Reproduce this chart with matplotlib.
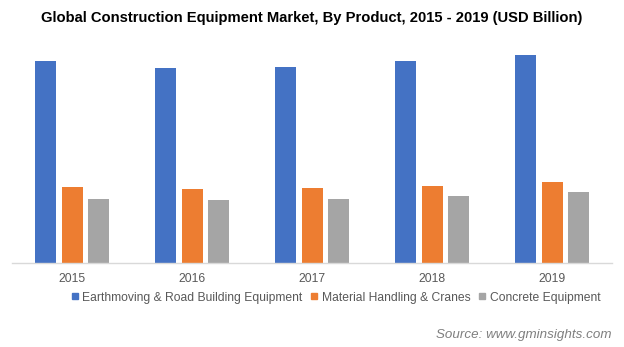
import matplotlib
matplotlib.use("Agg")
import matplotlib.pyplot as plt
from matplotlib.lines import Line2D
import numpy as np

# data (USD Billion)
years = ["2015", "2016", "2017", "2018", "2019"]
earthmoving = [101.2, 97.5, 98.2, 101.2, 104.2]
material_handling = [38.2, 37.0, 37.7, 38.7, 40.7]
concrete = [32.0, 31.5, 32.0, 33.7, 35.7]

series_names = ["Earthmoving & Road Building Equipment",
                "Material Handling & Cranes",
                "Concrete Equipment"]
colors = ["#4472C4", "#ED7D31", "#A5A5A5"]

plt.rcParams['font.family'] = ['Liberation Sans', 'DejaVu Sans']

fig = plt.figure(figsize=(6.24, 3.47), dpi=100)
# axes placed in pixels: x 12..612, baseline at y=263, top at y=40
W, H = 624, 347
ax = fig.add_axes([12 / W, (H - 263) / H, 600 / W, 223 / H])

x = np.arange(len(years))
bw = 0.175
off = 0.221
for vals, c, dx in zip([earthmoving, material_handling, concrete], colors, [-off, 0, off]):
    ax.bar(x + dx, vals, width=bw, color=c, zorder=2)

ax.set_xlim(-0.5, len(years) - 0.5)
ax.set_ylim(0, 111.5)
ax.set_yticks([])
ax.set_xticks(x)
ax.set_xticklabels(years, fontsize=8.7, color="#595959")
ax.tick_params(axis='x', length=0, pad=7)
for s in ["top", "right", "left"]:
    ax.spines[s].set_visible(False)
ax.spines["bottom"].set_color("#D9D9D9")
ax.spines["bottom"].set_linewidth(1.0)

# title
fig.text(0.5, 1 - 18 / H, "Global Construction Equipment Market, By Product, 2015 - 2019 (USD Billion)",
         ha="center", va="center", fontsize=10.6, fontweight="bold", color="#000000")

# legend
handles = [Line2D([], [], marker="s", linestyle="none", markersize=5,
                  markerfacecolor=c, markeredgecolor=c) for c in colors]
fig.legend(handles, series_names, loc="center", ncol=3,
           bbox_to_anchor=(336 / W, 1 - 297.5 / H), frameon=False,
           fontsize=8.7, labelcolor="#595959", handlelength=0.5,
           handletextpad=0.35, columnspacing=0.75, borderpad=0)

# source
fig.text(611 / W, 1 - 335 / H, "Source: www.gminsights.com", ha="right", va="center",
         fontsize=9.6, style="italic", color="#7F7F7F")

fig.savefig("out.png", dpi=100)
